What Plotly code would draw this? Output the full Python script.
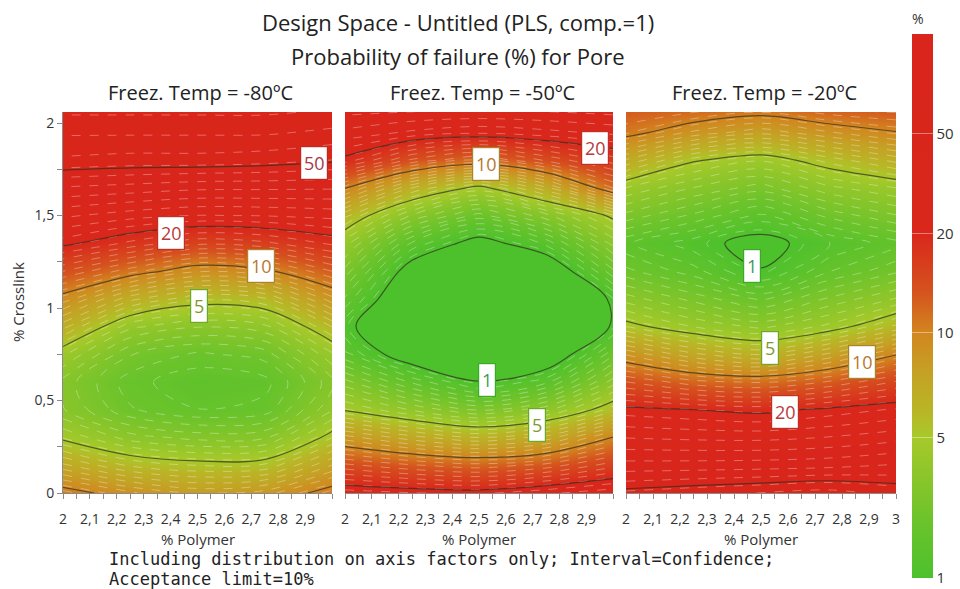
import numpy as np
import plotly.graph_objects as go

# ---------------- data ----------------
polymer = [2.0, 2.25, 2.5, 2.75, 3.0]
crosslink = [0.0, 0.15, 0.30, 0.45, 0.60, 0.75, 0.90, 1.05, 1.20, 1.35, 1.50, 1.65, 1.80, 1.95, 2.10]
panel_titles = ["Freez. Temp = -80ºC", "Freez. Temp = -50ºC", "Freez. Temp = -20ºC"]

# probability of failure (%) ; rows = crosslink, cols = polymer
pf_m80 = [
    [11, 9, 8, 8.5, 11],
    [7, 5.7, 5.3, 5.4, 7.5],
    [4.7, 3.3, 2.9, 3.0, 5.3],
    [3.1, 2.0, 1.7, 1.8, 3.5],
    [2.9, 1.8, 1.5, 1.6, 2.9],
    [4.2, 2.3, 1.9, 2.1, 4.0],
    [6.5, 3.7, 3.1, 3.4, 5.8],
    [9.3, 6.5, 5.4, 5.7, 8.6],
    [13.9, 11, 9.0, 9.7, 12.7],
    [21, 17.7, 15.5, 16.2, 18.5],
    [29, 26.6, 25, 25.3, 26.2],
    [40, 38.6, 37, 36.8, 36.5],
    [55, 54, 54, 53, 51],
    [62, 62, 62, 62, 60],
    [70, 70, 70, 70, 68],
]
pf_m50 = [
    [24, 22.5, 21.7, 24.5, 27.5],
    [14.2, 12.8, 12, 13.1, 16],
    [8.5, 7.1, 6.3, 7.1, 10.1],
    [4.85, 3.5, 2.6, 3.4, 5.55],
    [2.8, 1.65, 1.02, 1.4, 3.3],
    [1.5, 0.75, 0.56, 0.67, 1.9],
    [1.12, 0.56, 0.45, 0.5, 1.04],
    [1.65, 0.6, 0.45, 0.5, 1.07],
    [2.5, 0.8, 0.56, 0.67, 1.9],
    [3.8, 1.42, 0.84, 1.31, 3.2],
    [5.9, 3.0, 1.83, 2.9, 5.2],
    [10.1, 6.3, 4.55, 6.7, 11.6],
    [19.2, 13.6, 11.5, 14.1, 17.4],
    [27.5, 24.6, 23, 24.3, 26],
    [35, 35, 35, 35, 36],
]
pf_m20 = [
    [52, 54, 56, 58, 54],
    [37.6, 37.8, 38.2, 39, 41],
    [28.2, 27.6, 27.4, 28.5, 30.5],
    [21, 20, 19.3, 20.8, 22.7],
    [13.9, 12, 11.4, 12.8, 15.3],
    [8.8, 7, 6.2, 7.6, 9.9],
    [5.3, 4.1, 3.4, 4.3, 5.9],
    [3.3, 2.5, 1.9, 2.7, 3.6],
    [2.05, 1.55, 1.02, 1.67, 2.2],
    [1.5, 1.15, 0.85, 1.25, 1.6],
    [2.5, 1.9, 1.4, 2.05, 2.6],
    [4.1, 3.05, 2.45, 3.4, 4.1],
    [6.8, 5.1, 4.2, 5.5, 6.5],
    [10.8, 8.7, 7.7, 8.8, 9.9],
    [13.5, 13, 12, 13.5, 14],
]
panels = [pf_m80, pf_m50, pf_m20]

# colour-bar scale anchors (probability % -> position on bar)
scale_p = [0.1, 1, 5, 10, 20, 50, 100]
scale_pos = [-2.0, 0.0, 1.41, 2.46, 3.46, 4.46, 5.46]
major_levels = [1, 5, 10, 20, 50]
major_labels = ["1", "5", "10", "20", "50"]

# contour label boxes: (level, polymer, crosslink) per panel
labels_m80 = [(50, 2.933, 1.784), (20, 2.403, 1.405), (10, 2.735, 1.227), (5, 2.504, 1.011)]
labels_m50 = [(10, 2.526, 1.778), (20, 2.933, 1.865), (1, 2.53, 0.611), (5, 2.716, 0.368)]
labels_m20 = [(1, 2.466, 1.227), (5, 2.534, 0.784), (10, 2.873, 0.708), (20, 2.59, 0.438)]
panel_labels = [labels_m80, labels_m50, labels_m20]

x_tickvals = [2.0, 2.1, 2.2, 2.3, 2.4, 2.5, 2.6, 2.7, 2.8, 2.9, 3.0]
x_ticktext = ["2", "2,1", "2,2", "2,3", "2,4", "2,5", "2,6", "2,7", "2,8", "2,9", "3"]
y_tickvals = [0, 0.5, 1, 1.5, 2]
y_ticktext = ["0", "0,5", "1", "1,5", "2"]

# ---------------- style ----------------
W, H = 960, 589
def px_x(p): return p / W
def px_y(p): return 1 - p / H

ZMAX = scale_pos[-1]
def to_pos(p):
    return np.interp(np.log(np.asarray(p, float)), np.log(scale_p), scale_pos)

colorscale = [
    [0.0, "#4CC12C"], [0.106, "#6CC32B"], [0.198, "#8FC62A"], [1.41 / ZMAX, "#A8C92A"],
    [0.308, "#B9B526"], [0.381, "#C5A024"], [2.46 / ZMAX, "#D2861F"], [0.527, "#D5521E"],
    [3.46 / ZMAX, "#D9271C"], [1.0, "#D9251B"],
]
label_text_col = {1: "#3E9A5A", 5: "#7E9A2E", 10: "#B8782E", 20: "#B83A3A", 50: "#A8384A"}
label_border_col = {1: "#3AAA2E", 5: "#6AAA2A", 10: "#A8842A", 20: "#C03028", 50: "#C02820"}

xdomains = [(63, 332), (345, 613), (626, 896)]
ytop, ybot = 112, 493
FONT = "Open Sans"

fig = go.Figure()
for i, pf in enumerate(panels):
    xa = "x" if i == 0 else f"x{i+1}"
    ya = "y" if i == 0 else f"y{i+1}"
    z = to_pos(pf)
    fig.add_trace(go.Heatmap(x=polymer, y=crosslink, z=z, zsmooth="best", coloraxis="coloraxis",
                             xaxis=xa, yaxis=ya, hoverinfo="skip"))
    fig.add_trace(go.Contour(x=polymer, y=crosslink, z=z, autocontour=False,
                             contours=dict(coloring="none", start=0.07, end=5.4, size=0.13),
                             line=dict(color="rgba(255,255,255,0.4)", width=0.8, dash="dash", smoothing=1),
                             showscale=False, xaxis=xa, yaxis=ya, hoverinfo="skip"))
    for lv in major_levels:
        v = float(to_pos(lv))
        fig.add_trace(go.Contour(x=polymer, y=crosslink, z=z, autocontour=False,
                                 contours=dict(coloring="none", start=v, end=v + 0.001, size=10),
                                 line=dict(color="rgba(45,45,30,0.7)", width=1.2, smoothing=1),
                                 showscale=False, xaxis=xa, yaxis=ya, hoverinfo="skip"))
    for lv, lx, ly in panel_labels[i]:
        fig.add_annotation(x=lx, y=ly, xref=xa, yref=ya, text=str(lv), showarrow=False,
                           xanchor="center", yanchor="middle",
                           font=dict(family=FONT, size=18, color=label_text_col[lv]),
                           width=22 if lv >= 10 else 12, height=28,
                           bgcolor="white", bordercolor=label_border_col[lv], borderwidth=1.2, borderpad=2)

axis_common = dict(showgrid=False, zeroline=False, linecolor="#8a8a8a", tickcolor="#8a8a8a",
                   tickfont=dict(family=FONT, size=14, color="#333"))
layout = dict(
    width=W, height=H, margin=dict(l=0, r=0, t=0, b=0, autoexpand=False),
    paper_bgcolor="white", plot_bgcolor="white", showlegend=False,
    coloraxis=dict(colorscale=colorscale, cmin=0, cmax=ZMAX,
                   colorbar=dict(x=px_x(912), xanchor="left", y=px_y(10), yanchor="top",
                                 xpad=0, ypad=0,
                                 len=(578 - 10) / H, lenmode="fraction", thickness=21, thicknessmode="pixels",
                                 outlinewidth=0, tickvals=[float(to_pos(v)) for v in major_levels],
                                 ticktext=major_labels, ticks="inside", ticklen=21,
                                 tickcolor="rgba(255,255,255,0.4)",
                                 tickfont=dict(family=FONT, size=15, color="#333"),
                                 title=dict(text="%", side="top", font=dict(family=FONT, size=14, color="#333")))),
)
for i, (a, b) in enumerate(xdomains):
    xk = "xaxis" if i == 0 else f"xaxis{i+1}"
    yk = "yaxis" if i == 0 else f"yaxis{i+1}"
    tv = x_tickvals if i == 2 else x_tickvals[:-1]
    tt = x_ticktext if i == 2 else x_ticktext[:-1]
    layout[xk] = dict(axis_common, domain=[px_x(a), px_x(b)], range=[2, 3], showline=True,
                      tickmode="array", tickvals=tv, ticktext=tt, ticks="outside", ticklen=5,
                      ticklabelstandoff=8,
                      minor=dict(ticks="outside", dtick=0.05, ticklen=5, tickcolor="#8a8a8a"),
                      anchor="y" if i == 0 else f"y{i+1}")
    ydict = dict(axis_common, domain=[px_y(ybot), px_y(ytop)], range=[0, 2.06],
                 anchor="x" if i == 0 else f"x{i+1}")
    if i == 0:
        ydict.update(showline=True, tickmode="array", tickvals=y_tickvals, ticktext=y_ticktext,
                     ticks="outside", ticklen=5,
                     minor=dict(ticks="outside", dtick=0.25, ticklen=5, tickcolor="#8a8a8a"))
    else:
        ydict.update(showline=False, showticklabels=False, ticks="")
    layout[yk] = ydict
fig.update_layout(**layout)

# titles & texts
def paper_text(xp, yp, text, font, xanchor="center", angle=0):
    fig.add_annotation(x=px_x(xp), y=px_y(yp), xref="paper", yref="paper", showarrow=False,
                       xanchor=xanchor, yanchor="middle", textangle=angle, text=text, font=font,
                       align="left")

paper_text(458, 22, "Design Space - Untitled (PLS, comp.=1)", dict(family=FONT, size=22, color="#222"))
paper_text(458, 56, "Probability of failure (%) for Pore", dict(family=FONT, size=22, color="#222"))
for i, (a, b) in enumerate(xdomains):
    paper_text((a + b) / 2 + 3, 92, panel_titles[i], dict(family=FONT, size=20, color="#222"))
    paper_text((a + b) / 2, 539, "% Polymer", dict(family=FONT, size=15, color="#333"))
paper_text(18, 302, "% Crosslink", dict(family=FONT, size=15, color="#333"), angle=-90)
paper_text(107, 559, "Including distribution on axis factors only; Interval=Confidence;",
           dict(family="DejaVu Sans Mono", size=17, color="#222"), xanchor="left")
paper_text(107, 579, "Acceptance limit=10%",
           dict(family="DejaVu Sans Mono", size=17, color="#222"), xanchor="left")

fig.write_html("out.html")
